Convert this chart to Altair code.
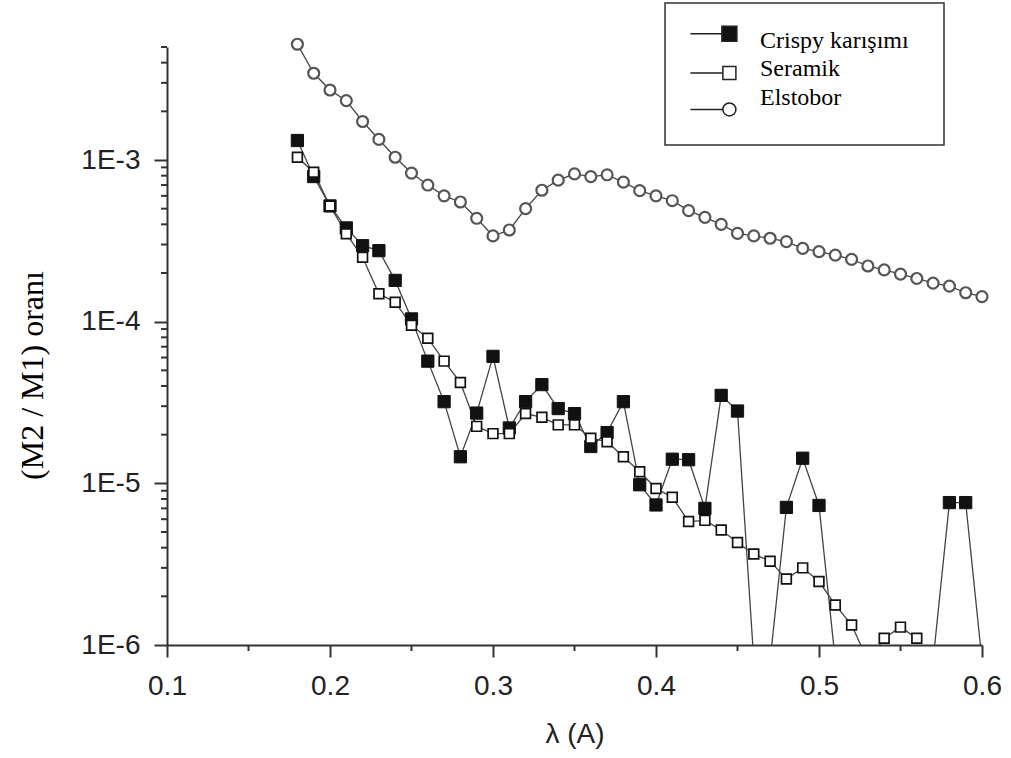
import altair as alt
import pandas as pd

# ---- data ----
wavelength = [0.18, 0.19, 0.20, 0.21, 0.22, 0.23, 0.24, 0.25, 0.26, 0.27,
              0.28, 0.29, 0.30, 0.31, 0.32, 0.33, 0.34, 0.35, 0.36, 0.37,
              0.38, 0.39, 0.40, 0.41, 0.42, 0.43, 0.44, 0.45, 0.46, 0.47,
              0.48, 0.49, 0.50, 0.51, 0.52, 0.53, 0.54, 0.55, 0.56, 0.57,
              0.58, 0.59, 0.60]

crispy = [1.32e-3, 7.9e-4, 5.2e-4, 3.8e-4, 2.95e-4, 2.75e-4, 1.8e-4, 1.04e-4, 5.7e-5, 3.2e-5,
          1.46e-5, 2.72e-5, 6.1e-5, 2.2e-5, 3.2e-5, 4.08e-5, 2.9e-5, 2.7e-5, 1.69e-5, 2.06e-5,
          3.2e-5, 9.8e-6, 7.35e-6, 1.41e-5, 1.4e-5, 7.0e-6, 3.5e-5, 2.8e-5, 8e-7, 8e-7,
          7.1e-6, 1.43e-5, 7.3e-6, 8e-7, 8e-7, 8e-7, 8e-7, 8e-7, 8e-7, 8e-7,
          7.6e-6, 7.6e-6, 8e-7]

seramik = [1.04e-3, 8.4e-4, 5.2e-4, 3.5e-4, 2.5e-4, 1.49e-4, 1.32e-4, 9.5e-5, 7.9e-5, 5.7e-5,
           4.2e-5, 2.25e-5, 2.03e-5, 2.03e-5, 2.7e-5, 2.56e-5, 2.3e-5, 2.3e-5, 1.9e-5, 1.81e-5,
           1.46e-5, 1.18e-5, 9.3e-6, 8.2e-6, 5.8e-6, 5.9e-6, 5.15e-6, 4.3e-6, 3.65e-6, 3.3e-6,
           2.56e-6, 3.0e-6, 2.47e-6, 1.77e-6, 1.33e-6, 8e-7, 1.1e-6, 1.29e-6, 1.1e-6, None,
           None, None, None]

elstobor = [5.2e-3, 3.44e-3, 2.71e-3, 2.33e-3, 1.73e-3, 1.34e-3, 1.04e-3, 8.3e-4, 7.0e-4, 6.0e-4,
            5.5e-4, 4.36e-4, 3.39e-4, 3.69e-4, 5.0e-4, 6.5e-4, 7.5e-4, 8.2e-4, 7.9e-4, 8.1e-4,
            7.3e-4, 6.46e-4, 6.0e-4, 5.6e-4, 4.86e-4, 4.42e-4, 4.0e-4, 3.52e-4, 3.39e-4, 3.28e-4,
            3.13e-4, 2.84e-4, 2.71e-4, 2.58e-4, 2.43e-4, 2.21e-4, 2.09e-4, 1.97e-4, 1.85e-4, 1.73e-4,
            1.66e-4, 1.51e-4, 1.43e-4]

series_names = ["Crispy karışımı", "Seramik", "Elstobor"]
x_major = [0.1, 0.2, 0.3, 0.4, 0.5, 0.6]
x_minor = [0.15, 0.25, 0.35, 0.45, 0.55]
y_major = [1e-6, 1e-5, 1e-4, 1e-3]
y_minor = [2e-6, 3e-6, 4e-6, 5e-6, 6e-6, 7e-6, 8e-6, 9e-6,
           2e-5, 3e-5, 4e-5, 5e-5, 6e-5, 7e-5, 8e-5, 9e-5,
           2e-4, 3e-4, 4e-4, 5e-4, 6e-4, 7e-4, 8e-4, 9e-4,
           2e-3, 3e-3, 4e-3, 5e-3]

rows = []
for name, vals in zip(series_names, [crispy, seramik, elstobor]):
    for xv, yv in zip(wavelength, vals):
        if yv is not None:
            rows.append({"series": name, "x": xv, "y": yv})
df = pd.DataFrame(rows)

df_minor_y = pd.DataFrame({"y": y_minor, "x": [x_major[0]] * len(y_minor)})
df_minor_x = pd.DataFrame({"x": x_minor, "y": [y_major[0]] * len(x_minor)})

# ---- encodings ----
X = alt.X("x:Q",
          scale=alt.Scale(domain=[0.1, 0.6], nice=False, zero=False),
          axis=alt.Axis(values=x_major, grid=False, format=".1f", tickSize=12,
                        labelPadding=15, labelFont="Liberation Sans", labelFontSize=28,
                        labelColor="#222", labelFlush=False, labelOverlap=False,
                        title="λ (A)", titleFont="Liberation Sans", titleFontSize=28,
                        titleFontWeight="normal", titleColor="#222",
                        titleY=97, titleBaseline="alphabetic"))
Y = alt.Y("y:Q",
          scale=alt.Scale(type="log", domain=[1e-6, 5e-3], nice=False),
          axis=alt.Axis(values=y_major, grid=False, tickSize=13,
                        labelExpr="'1E' + round(log(datum.value)/LN10)",
                        labelPadding=14, labelFont="Liberation Sans", labelFontSize=28,
                        labelColor="#222", labelFlush=False, labelOverlap=False,
                        labelBaseline="middle",
                        title="(M2 / M1) oranı", titleFont="Liberation Serif",
                        titleFontSize=32, titleFontWeight="normal", titleColor="black",
                        titleX=-125, titleY=328, titleBaseline="alphabetic",
                        titleAngle=270))

def sub(name):
    return alt.Chart(df).transform_filter(alt.datum.series == name)

line_c = sub("Crispy karışımı").mark_line(color="#444", strokeWidth=1.3, clip=True).encode(x=X, y=Y, order="x:Q")
line_s = sub("Seramik").mark_line(color="#444", strokeWidth=1.3, clip=True).encode(x=X, y=Y, order="x:Q")
line_e = sub("Elstobor").mark_line(color="#444", strokeWidth=1.3).encode(x=X, y=Y, order="x:Q")

pts_c = sub("Crispy karışımı").mark_point(shape="square", filled=True, fill="#111", stroke="#111",
                                          strokeWidth=1, size=150, opacity=1, clip=True).encode(x=X, y=Y)
pts_s = sub("Seramik").mark_point(shape="square", filled=True, fill="white", stroke="#111",
                                  strokeWidth=1.7, size=95, opacity=1, clip=True).encode(x=X, y=Y)
pts_e = sub("Elstobor").mark_point(shape="circle", filled=True, fill="white", stroke="#555",
                                   strokeWidth=2.2, size=120, opacity=1).encode(x=X, y=Y)

# minor ticks of both axes
ticks_y = alt.Chart(df_minor_y).mark_tick(orient="horizontal", size=6, thickness=2,
                                          color="#333", opacity=1, xOffset=-3).encode(x=X, y=Y)
ticks_x = alt.Chart(df_minor_x).mark_tick(orient="vertical", size=6, thickness=2,
                                          color="#333", opacity=1, yOffset=3).encode(x=X, y=Y)

# legend symbols: line + marker drawn as custom paths
paths = [
    "M -1.8 -1.03 L 2.7 -1.03 M 2.7 -2.1 L 4.84 -2.1 L 4.84 0.04 L 2.7 0.04 Z",
    "M -1.8 0.64 L 2.84 0.64 M 2.84 -0.29 L 4.7 -0.29 L 4.7 1.57 L 2.84 1.57 Z",
    "M -1.8 1.64 L 2.84 1.64 M 4.7 1.64 A 0.93 0.93 0 1 1 2.84 1.64 A 0.93 0.93 0 1 1 4.7 1.64 Z",
]
leg = alt.Legend(orient="none", legendX=498, legendY=-44,
                 title="\u2800", titleOrient="right", titleFontSize=12, titlePadding=0,
                 strokeColor="#333", fillColor="white", padding=26,
                 labelFont="Liberation Serif", labelFontSize=24, labelColor="black",
                 labelOffset=45, rowPadding=3.5, symbolSize=196, symbolOpacity=1,
                 symbolStrokeWidth=1.5, labelLimit=300)
legend_layer = alt.Chart(df).transform_filter("false").mark_point(
    filled=True, stroke="#222", strokeWidth=1.5, size=196, opacity=1
).encode(
    x=X, y=Y,
    shape=alt.Shape("series:N", scale=alt.Scale(domain=series_names, range=paths), legend=leg),
    fill=alt.Fill("series:N", scale=alt.Scale(domain=series_names, range=["#111", "white", "white"]), legend=leg),
)

chart = alt.layer(ticks_y, ticks_x, line_c, line_s, line_e, pts_c, pts_s, pts_e, legend_layer).properties(
    width=815, height=598,
    padding={"left": 167, "top": 47, "right": 29, "bottom": 113},
    autosize="none",
).configure_view(stroke=None).configure_axis(
    domainColor="#333", domainWidth=2, tickColor="#333", tickWidth=2
).configure_legend(strokeWidth=1.5)

chart.save("out.html", embed_options={"renderer": "svg", "actions": False})
